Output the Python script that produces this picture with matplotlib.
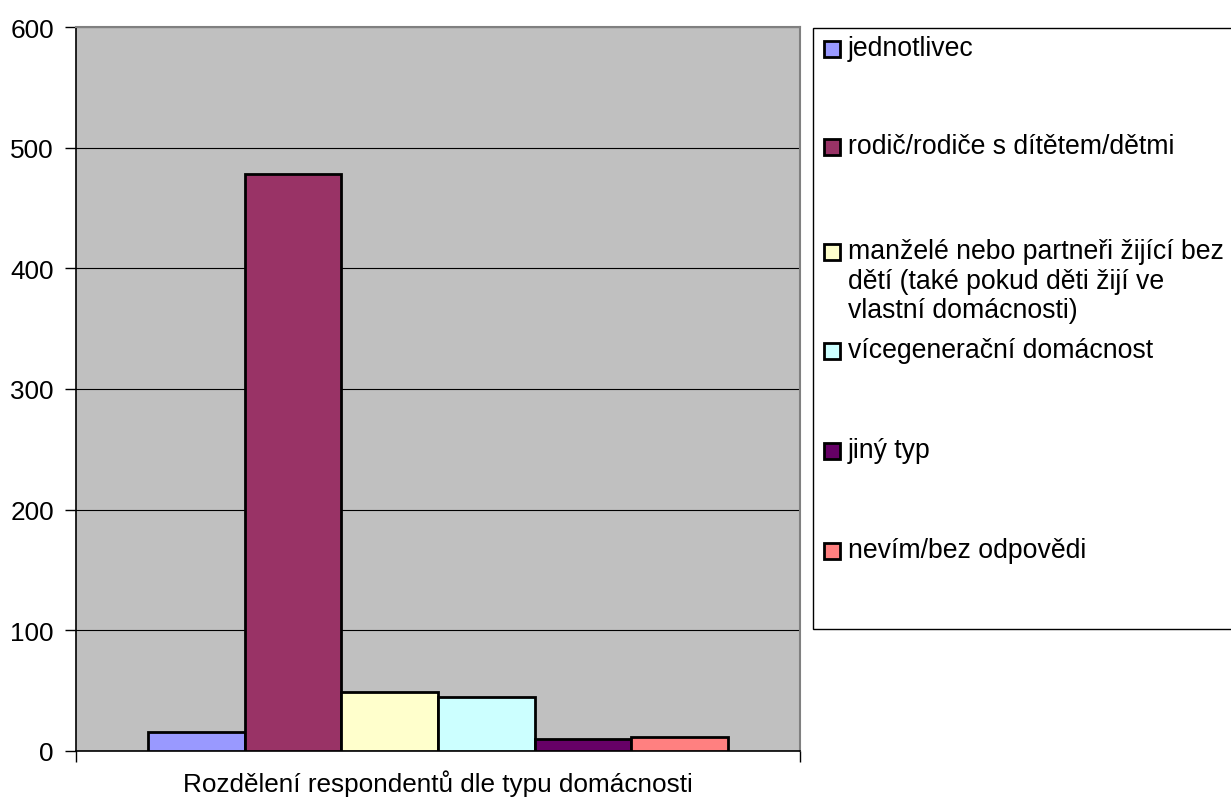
import matplotlib
matplotlib.use("Agg")
import matplotlib.pyplot as plt
from matplotlib.patches import Rectangle

plt.rcParams['font.family'] = ['Liberation Sans', 'DejaVu Sans']

category = "Rozdělení respondentů dle typu domácnosti"
series_labels = [
    "jednotlivec",
    "rodič/rodiče s dítětem/dětmi",
    "manželé nebo partneři žijící bez\ndětí (také pokud děti žijí ve\nvlastní domácnosti)",
    "vícegenerační domácnost",
    "jiný typ",
    "nevím/bez odpovědi",
]
values = [16, 478, 49, 45, 10, 12]
colors = ["#9999FF", "#993366", "#FFFFCC", "#CCFFFF", "#660066", "#FF8080"]
yticks = [0, 100, 200, 300, 400, 500, 600]

W, H = 1231, 804
fig = plt.figure(figsize=(W / 100, H / 100), dpi=100)
ax = fig.add_axes([76 / W, 1 - 752 / H, 724 / W, 724 / H])
ax.set_facecolor("#C0C0C0")

n = len(values)
bw = 1 / (n + 1.5)
for i, (v, c) in enumerate(zip(values, colors)):
    x = 0.5 + (i - (n - 1) / 2) * bw
    ax.bar(x, v, width=bw, color=c, edgecolor="black", linewidth=2.0, zorder=3)

ax.set_xlim(0, 1)
ax.set_ylim(0, 600)
ax.set_yticks(yticks)
ax.set_yticklabels([str(t) for t in yticks], fontsize=18.8)
ax.yaxis.grid(True, color="black", linewidth=0.8, zorder=1)
ax.set_axisbelow(True)
ax.tick_params(axis="y", direction="out", length=8, width=1, pad=8, colors="black")

ax.set_xticks([0.5])
ax.set_xticklabels([category], fontsize=18.8)
ax.tick_params(axis="x", length=0, pad=13)
ax.set_xticks([0, 1], minor=True)
ax.tick_params(axis="x", which="minor", length=8, width=1, direction="out")

for s in ["top", "right"]:
    ax.spines[s].set_color("#808080")
    ax.spines[s].set_linewidth(1.5)
for s in ["left", "bottom"]:
    ax.spines[s].set_color("black")
    ax.spines[s].set_linewidth(1.2)

# legend (manually laid out box like the original)
def fx(px):
    return px / W

def fy(py):
    return 1 - py / H

fig.patches.append(Rectangle((fx(813), fy(630)), fx(W + 5) - fx(813), fy(29) - fy(630),
                             transform=fig.transFigure, facecolor="white",
                             edgecolor="black", linewidth=1.0, clip_on=False))
centers = [50, 148, 253, 352, 452, 552]
for lab, c, yc in zip(series_labels, colors, centers):
    fig.patches.append(Rectangle((fx(824), fy(yc + 8)), fx(16), 16 / H,
                                 transform=fig.transFigure, facecolor=c,
                                 edgecolor="black", linewidth=2.0))
    fig.text(fx(848), fy(yc - 13.5), lab, fontsize=19.2, va="top", ha="left",
             linespacing=1.17)

fig.savefig("out.png", dpi=100)
